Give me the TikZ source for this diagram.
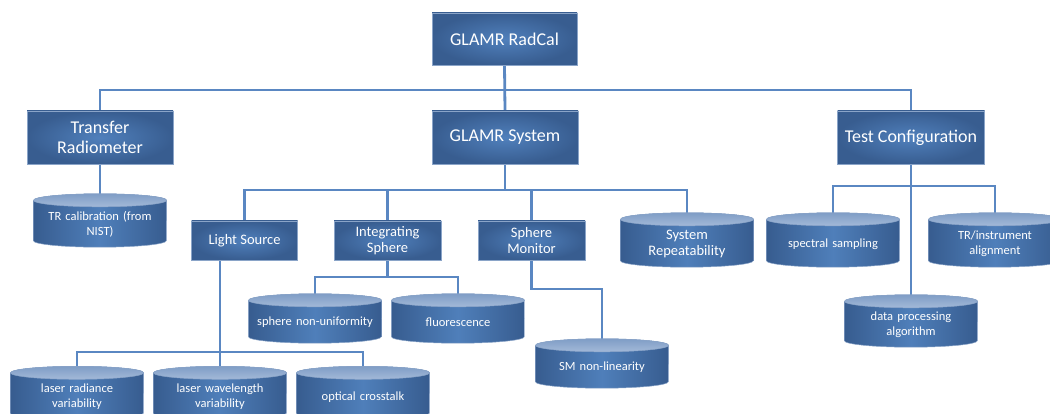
\documentclass[tikz,border=0pt]{standalone}
\usepackage{fontspec}
\setmainfont{Carlito}
\usetikzlibrary{calc}
\pgfdeclarelayer{connlayer}
\pgfdeclarelayer{cyllayer}
\pgfsetlayers{connlayer,cyllayer,main}
\definecolor{boxin}{HTML}{5080BC}
\definecolor{boxout}{HTML}{385D90}
\definecolor{boxline}{HTML}{8AA4C8}
\definecolor{cylside}{HTML}{375C8F}
\definecolor{cylmid}{HTML}{4F7FBA}
\definecolor{cyltopa}{HTML}{A3B9D8}
\definecolor{cyltopb}{HTML}{7F9DC6}
\definecolor{connc}{HTML}{5A87C2}
\newcommand{\cylrx}{66.5pt}
\newcommand{\cylry}{6.5pt}
\newcommand{\cylext}{8pt}
\newcommand{\cylshape}[1]{%
  \path[cylbody] ($(#1.north west)+(0,\cylext-\cylry)$) -- ($(#1.south west)+(0,\cylry)$)
    arc[start angle=180,end angle=360,x radius=\cylrx,y radius=\cylry]
    -- ($(#1.north east)+(0,\cylext-\cylry)$)
    arc[start angle=0,end angle=180,x radius=\cylrx,y radius=\cylry] -- cycle;
  \path[cyltop] ($(#1.north)+(0,\cylext-\cylry)$) ellipse[x radius=\cylrx,y radius=\cylry];}
\tikzset{
  boxbase/.style={rectangle, inner color=boxin, outer color=boxout, draw=boxline,
    line width=0.6pt, text=white, align=center, inner sep=2pt},
  topbox/.style={boxbase, minimum width=146pt, minimum height=53pt,
    font=\fontsize{18}{20}\selectfont},
  midbox/.style={boxbase, minimum width=106pt, minimum height=39pt,
    font=\fontsize{14.5}{16.5}\selectfont},
  cylnode/.style={rectangle, inner sep=0pt, minimum width=133pt, text width=125pt,
    align=center, text=white, font=\fontsize{12.5}{15}\selectfont},
  bigcyl/.style={font=\fontsize{14.5}{16.5}\selectfont},
  cylbody/.style={left color=cylside, right color=cylside, middle color=cylmid,
    draw=boxline, line width=0.5pt},
  cyltop/.style={top color=cyltopb, bottom color=cyltopa, draw=boxline, line width=0.5pt},
  conn/.style={draw=connc, line width=2.8pt}
}
\begin{document}
\begin{tikzpicture}[x=1pt,y=1pt]
\useasboundingbox (0,0) rectangle (1050,413);
% boxes
\node[topbox, minimum width=145pt, minimum height=52pt] (root) at (504.5,374) {GLAMR RadCal};
\node[topbox] (tr) at (100,275.5) {Transfer\\Radiometer};
\node[topbox] (sys) at (505,275.5) {GLAMR System};
\node[topbox, minimum width=147pt] (tc) at (911,275.5) {Test Configuration};
\node[midbox] (ls) at (244.5,172.5) {Light Source};
\node[midbox, minimum width=107pt] (is) at (387.5,172.5) {Integrating\\Sphere};
\node[midbox, minimum width=107pt] (sm) at (531.5,172.5) {Sphere\\Monitor};
% cylinders (text holders; shape drawn from them, 8pt taller at the top)
\node[cylnode, minimum height=45pt] (trcal) at (100,188.5) {TR calibration (from\\NIST)};
\node[cylnode, bigcyl, minimum height=46pt] (sysrep) at (687,169) {System\\Repeatability};
\node[cylnode, minimum height=46pt] (spec) at (833,169) {spectral sampling};
\node[cylnode, minimum height=46pt] (tral) at (995,169) {TR/instrument\\alignment};
\node[cylnode, minimum height=44pt] (dpa) at (911,88) {data processing\\algorithm};
\node[cylnode, minimum height=41pt] (snu) at (315,90.5) {sphere non-uniformity};
\node[cylnode, minimum height=41pt] (fluor) at (458,90.5) {fluorescence};
\node[cylnode, minimum height=41pt] (smnl) at (602,45.5) {SM non-linearity};
\node[cylnode, minimum height=45pt] (lrv) at (77,16) {laser radiance\\variability};
\node[cylnode, minimum height=45pt] (lwv) at (220,16) {laser wavelength\\variability};
\node[cylnode, minimum height=45pt] (oc) at (363,16) {optical crosstalk};
% junction levels
\coordinate (y1) at (0,323);
\coordinate (y2) at (0,223);
\coordinate (y3) at (0,227);
\coordinate (y4) at (0,136);
\coordinate (y5) at (0,124);
\coordinate (y6) at (0,61);
\begin{pgfonlayer}{connlayer}
\draw[conn] (root.south) -- (sys.north);
\draw[conn] (tr.north) |- (y1 -| root.south) -| (tc.north);
\draw[conn] (tr.south) -- (trcal.north);
\draw[conn] (sys.south) -- (sys.south |- y2);
\draw[conn] (ls.north) |- (y2 -| sys.south) -| (sysrep.north);
\draw[conn] (is.north) -- (is.north |- y2);
\draw[conn] (sm.north) -- (sm.north |- y2);
\draw[conn] (tc.south) -- (dpa.north);
\draw[conn] (spec.north) |- (y3 -| tc.south) -| (tral.north);
\draw[conn] (is.south) -- (is.south |- y4);
\draw[conn] (snu.north) |- (y4 -| is.south) -| (fluor.north);
\draw[conn] (sm.south) |- (smnl.north |- y5) -- (smnl.north);
\draw[conn] (ls.south -| lwv.north) -- (lwv.north);
\draw[conn] (lrv.north) |- (y6 -| oc.north) -- (oc.north);
\end{pgfonlayer}
\begin{pgfonlayer}{cyllayer}
\cylshape{trcal}
\cylshape{sysrep}
\cylshape{spec}
\cylshape{tral}
\cylshape{dpa}
\cylshape{snu}
\cylshape{fluor}
\cylshape{smnl}
\cylshape{lrv}
\cylshape{lwv}
\cylshape{oc}
\end{pgfonlayer}
\end{tikzpicture}
\end{document}
